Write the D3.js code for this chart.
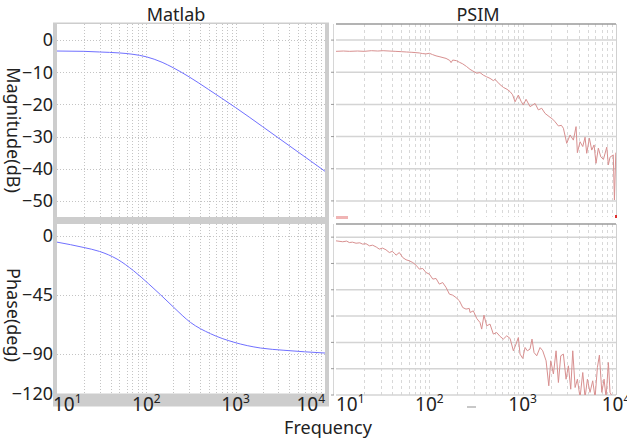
<!DOCTYPE html>
<html><head><meta charset="utf-8">
<script src="https://cdn.jsdelivr.net/npm/d3@7"></script>
<style>body{margin:0;background:#fff}svg{display:block;font-family:"Noto Sans",sans-serif}</style>
</head><body><svg id="c" width="627" height="440"></svg>
<script>
// ---------- data ----------
const panelTitles = ["Matlab", "PSIM"];
const xLabel = "Frequency";
const magLabel = "Magnitude(dB)";
const phaseLabel = "Phase(deg)";
const decadeTicks = [10, 100, 1000, 10000];
const decadeExps = ["1", "2", "3", "4"];
const magTicks = [0, -10, -20, -30, -40, -50];
const phaseTicks = [0, -45, -90, -120];
const psimPhaseGrid = [0, -20, -40, -60, -80, -100, -120];

const matlabMagFreq = [10, 20, 30, 50, 70, 100, 150, 200, 300, 500, 700, 1000, 2000, 3000, 5000, 7000, 10000];
const matlabMagDb   = [-3.4, -3.5, -3.7, -4.0, -4.4, -5.2, -6.9, -8.6, -11.4, -15.4, -18.1, -21.0, -26.9, -30.4, -34.8, -37.7, -40.8];

const matlabPhaseFreq = [10, 20, 30, 47, 72, 106, 144, 203, 312, 523, 957, 1900, 3470, 10000];
const matlabPhaseDeg  = [-4.8, -8.9, -11.9, -17.7, -26.6, -36.5, -44.8, -54.5, -65.9, -74.5, -81, -85.4, -87.1, -89.2];

const psimMagFreq = [10, 12, 14, 17, 20, 24, 28, 32, 37, 43, 50, 57, 65, 78, 85, 92, 100, 108, 118, 130, 151, 165, 171, 178, 195, 210, 228, 250, 273, 292, 322, 349, 379, 410, 447, 485, 506, 560, 621, 680, 732, 780, 829, 899, 960, 1017, 1087, 1199, 1358, 1473, 1600, 1738, 1966, 2100, 2224, 2415, 2600, 2731, 2966, 3222, 3493, 3733, 3857, 4120, 4403, 4660, 4856, 5184, 5497, 5822, 6110, 6470, 6870, 7330, 7960, 8280, 8630, 9350, 9620, 9950];
const psimMagDb   = [-3.5, -3.4, -3.5, -3.4, -3.5, -3.3, -3.4, -3.3, -3.4, -3.5, -3.6, -3.7, -3.8, -4.0, -4.2, -4.3, -4.1, -4.5, -4.9, -5.2, -5.7, -6.3, -7.0, -6.2, -6.4, -6.9, -7.4, -8.2, -9.1, -9.6, -10.3, -10.1, -10.9, -11.4, -11.9, -12.6, -12.2, -13.6, -14.7, -15.3, -16.0, -17.0, -19.2, -17.1, -19.0, -20.2, -18.4, -20.7, -19.7, -21.7, -21.2, -22.8, -24.0, -24.6, -25.4, -26.7, -26.5, -27.4, -32.1, -29.5, -31.1, -26.9, -35.0, -31.6, -33.1, -30.2, -35.2, -30.5, -34.2, -32.6, -38.3, -33.6, -36.3, -37.1, -33.3, -38.8, -36.4, -35.7, -49.7, -35.0];

const psimPhaseFreq = [10, 11.8, 13, 13.9, 15, 16.4, 18, 19.3, 21, 22.8, 24.7, 27, 29.1, 31.5, 34.3, 37.3, 40, 42.2, 44, 47.7, 51.9, 56.3, 61.1, 66.4, 72, 78.2, 84.9, 92.2, 100, 109, 118, 128, 139, 151, 164, 178, 193, 210, 228, 247, 268, 273, 296, 322, 349, 364, 385, 412, 447, 485, 527, 573, 621, 675, 733, 795, 849, 899, 937, 1002, 1061, 1122, 1199, 1259, 1324, 1415, 1535, 1640, 1782, 1905, 2000, 2135, 2280, 2415, 2560, 2731, 2917, 3090, 3274, 3441, 3647, 3857, 4120, 4403, 4660, 4940, 5270, 5630, 5970, 6320, 6640, 7050, 7450, 7830, 8290, 8630, 9230, 10000];
const psimPhaseDeg  = [-2.8, -3.5, -3.0, -4.1, -3.8, -4.6, -4.3, -5.3, -5.0, -6.6, -6.1, -7.5, -9.1, -8.3, -9.6, -11.7, -10.8, -12.2, -13.7, -11.7, -15.5, -17.2, -18, -19.3, -21.3, -24.3, -23.8, -26.9, -28.1, -31.9, -31.4, -35.7, -34.5, -38.2, -43.3, -44.1, -45.9, -48.4, -53.5, -54.7, -54.2, -57.3, -56, -61.8, -64.9, -69.9, -59.3, -67.4, -66.1, -73.7, -72.5, -75.5, -77.5, -75, -77, -86.4, -81.3, -76.3, -88.9, -92.2, -83.9, -86.4, -85.1, -77.5, -87.7, -90.2, -83.9, -86.4, -94, -113, -94, -104, -86.4, -110.5, -90.2, -88.9, -108, -97.8, -115.6, -86.4, -114.3, -108, -122, -102.9, -122, -108, -118, -109.2, -122, -99.1, -89.7, -118, -108, -122, -95.3, -118, -122, -120];

// ---------- layout ----------
const svg = d3.select("#c");
const M = {x0: 57, x1: 325};
const P = {x0: 336, x1: 616};
const magTop = 24, magBot = 217;
const phTop = 224, phBotM = 393.5, phBotP = 395;
const ink = "#222";

const xM = d3.scaleLog().domain([10, 10000]).range([M.x0, M.x1]);
const xP = d3.scaleLog().domain([10, 10000]).range([P.x0, P.x1]);
const yMag = d3.scaleLinear().domain([-55, 5]).range([magBot, magTop]);
const yPhM = d3.scaleLinear().domain([-120, 9]).range([phBotM, phTop]);
const yPhP = d3.scaleLinear().domain([-120, 10]).range([phBotP, phTop]);

const minorTicks = xM.ticks();

// ---------- Matlab frame ----------
svg.append("rect").attr("x", 53).attr("y", 22.5).attr("width", 276).attr("height", 384)
  .attr("fill", "#cdcdcd");
svg.append("rect").attr("x", M.x0).attr("y", magTop).attr("width", M.x1 - M.x0).attr("height", magBot - magTop).attr("fill", "#fff");
svg.append("rect").attr("x", M.x0).attr("y", phTop).attr("width", M.x1 - M.x0).attr("height", phBotM - phTop).attr("fill", "#fff");

function clip(id, x, y, w, h) {
  svg.append("clipPath").attr("id", id).append("rect").attr("x", x).attr("y", y).attr("width", w).attr("height", h);
}
clip("cmm", M.x0, magTop, M.x1 - M.x0, magBot - magTop);
clip("cmp", M.x0, phTop, M.x1 - M.x0, phBotM - phTop);
clip("cpm", P.x0, magTop, P.x1 - P.x0, magBot - magTop);
clip("cpp", P.x0, phTop, P.x1 - P.x0, phBotP - phTop);

// Matlab grids (dotted)
function mGrid(top, bot, yScale, yt) {
  const g = svg.append("g").attr("stroke", "#c4c4c4").attr("stroke-width", 1).attr("stroke-dasharray", "1,2");
  g.selectAll(".v").data(minorTicks.filter(d => d > 10 && d < 10000)).join("line")
    .attr("x1", d => Math.round(xM(d)) + 0.5).attr("x2", d => Math.round(xM(d)) + 0.5)
    .attr("y1", top).attr("y2", bot);
  g.selectAll(".h").data(yt).join("line")
    .attr("x1", M.x0).attr("x2", M.x1)
    .attr("y1", d => Math.round(yScale(d)) + 0.5).attr("y2", d => Math.round(yScale(d)) + 0.5);
}
mGrid(magTop, magBot, yMag, magTicks);
mGrid(phTop, phBotM, yPhM, phaseTicks.filter(d => d > -120));

// Matlab curves
const lineM = yS => d3.line().x(d => xM(d[0])).y(d => yS(d[1])).curve(d3.curveMonotoneX);
svg.append("path").datum(d3.zip(matlabMagFreq, matlabMagDb)).attr("clip-path", "url(#cmm)")
  .attr("d", lineM(yMag)).attr("fill", "none").attr("stroke", "#7070ff").attr("stroke-width", 1);
svg.append("path").datum(d3.zip(matlabPhaseFreq, matlabPhaseDeg)).attr("clip-path", "url(#cmp)")
  .attr("d", lineM(yPhM)).attr("fill", "none").attr("stroke", "#7070ff").attr("stroke-width", 1);

// Matlab y axes
const yAxM = svg.append("g").attr("transform", `translate(${M.x0 - 4},0)`)
  .call(d3.axisLeft(yMag).tickValues(magTicks).tickSize(0).tickPadding(0));
const yAxP = svg.append("g").attr("transform", `translate(${M.x0 - 4},0)`)
  .call(d3.axisLeft(yPhM).tickValues(phaseTicks).tickSize(0).tickPadding(0));
[yAxM, yAxP].forEach(a => {
  a.select(".domain").remove();
  a.selectAll("text").attr("font-size", 18).attr("fill", ink).attr("font-family", '"Noto Sans",sans-serif');
});

// ---------- PSIM ----------
svg.append("line").attr("x1", 333.5).attr("x2", 333.5).attr("y1", magTop).attr("y2", magBot).attr("stroke", "#d6d6d6");
svg.append("line").attr("x1", 333.5).attr("x2", 333.5).attr("y1", phTop).attr("y2", phBotP).attr("stroke", "#d6d6d6");

function pGrid(top, bot, yScale, yt) {
  const g = svg.append("g");
  g.selectAll(".v").data(minorTicks.filter(d => d > 10 && d < 10000)).join("line")
    .attr("x1", d => Math.round(xP(d)) + 0.5).attr("x2", d => Math.round(xP(d)) + 0.5)
    .attr("y1", top).attr("y2", bot)
    .attr("stroke", "#d8d8d8").attr("stroke-dasharray", "3,3");
  g.selectAll(".h").data(yt).join("line")
    .attr("x1", P.x0).attr("x2", P.x1)
    .attr("y1", d => yScale(d)).attr("y2", d => yScale(d))
    .attr("stroke", "#d4d4d4").attr("stroke-width", 1.5);
  g.selectAll(".t").data(yt).join("line")
    .attr("x1", 331).attr("x2", 334)
    .attr("y1", d => yScale(d)).attr("y2", d => yScale(d))
    .attr("stroke", "#999").attr("stroke-width", 1);
  svg.append("line").attr("x1", P.x0).attr("x2", P.x1).attr("y1", top).attr("y2", top)
    .attr("stroke", "#9a9a9a").attr("stroke-width", 1.5);
  svg.append("line").attr("x1", P.x1 + 0.5).attr("x2", P.x1 + 0.5).attr("y1", top).attr("y2", bot)
    .attr("stroke", "#d0d0d0");
}
pGrid(magTop, magBot, yMag, magTicks);
pGrid(phTop, phBotP, yPhP, psimPhaseGrid);

const lineP = yS => d3.line().x(d => xP(d[0])).y(d => yS(d[1]));
svg.append("path").datum(d3.zip(psimMagFreq, psimMagDb)).attr("clip-path", "url(#cpm)")
  .attr("d", lineP(yMag)).attr("fill", "none").attr("stroke", "#d89090").attr("stroke-width", 1);
svg.append("path").datum(d3.zip(psimPhaseFreq, psimPhaseDeg)).attr("clip-path", "url(#cpp)")
  .attr("d", lineP(yPhP)).attr("fill", "none").attr("stroke", "#d89090").attr("stroke-width", 1);

// tiny PSIM legend marks
svg.append("rect").attr("x", P.x0).attr("y", 216).attr("width", 12).attr("height", 3).attr("fill", "#f0b4b4");
svg.append("rect").attr("x", P.x1 - 1).attr("y", 215).attr("width", 2).attr("height", 3).attr("fill", "#e03030");
svg.append("rect").attr("x", 467).attr("y", 406).attr("width", 9).attr("height", 2).attr("fill", "#c8c8c8");

// ---------- X tick labels ----------
function xLabels(xs, firstAnchor, firstShift, lastAnchor) {
  const g = svg.append("g").attr("font-size", 19).attr("fill", ink);
  const t = g.selectAll("text").data(decadeTicks).join("text")
    .attr("x", (d, i) => xs(d) + (i === 0 ? firstShift : 0)).attr("y", 411)
    .attr("text-anchor", (d, i) => i === 0 ? firstAnchor : (i === 3 ? lastAnchor : "middle"));
  t.append("tspan").text("10");
  t.append("tspan").attr("font-size", 12).attr("dy", -8).text((d, i) => decadeExps[i]);
}
xLabels(xM, "start", -4, "end");
xLabels(xP, "start", 0, "middle");

// ---------- titles and labels ----------
svg.append("text").attr("x", 176).attr("y", 21).attr("text-anchor", "middle").attr("font-size", 18).attr("fill", ink).text(panelTitles[0]);
svg.append("text").attr("x", 478).attr("y", 21).attr("text-anchor", "middle").attr("font-size", 18).attr("fill", ink).text(panelTitles[1]);
svg.append("text").attr("x", 328).attr("y", 434).attr("text-anchor", "middle").attr("font-size", 18).attr("fill", ink).text(xLabel);
svg.append("text").attr("transform", "translate(7,130) rotate(90)").attr("text-anchor", "middle").attr("font-size", 18).attr("fill", ink).text(magLabel);
svg.append("text").attr("transform", "translate(7,315) rotate(90)").attr("text-anchor", "middle").attr("font-size", 18).attr("fill", ink).text(phaseLabel);
</script></body></html>
